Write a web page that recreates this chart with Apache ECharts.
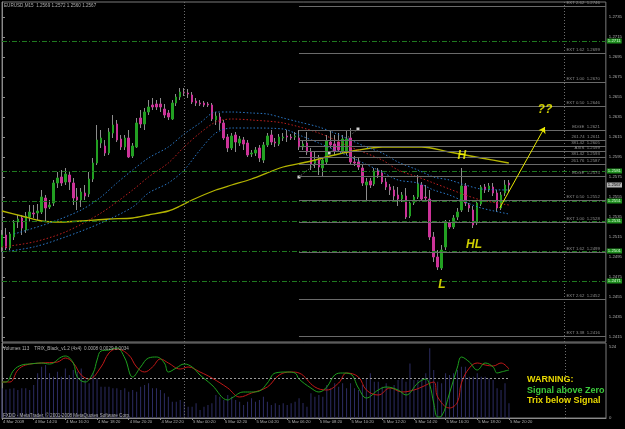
<!DOCTYPE html>
<html><head><meta charset="utf-8">
<script src="https://cdn.jsdelivr.net/npm/echarts@6/dist/echarts.min.js"></script>
<style>html,body{margin:0;padding:0;background:#000;}#c{width:625px;height:429px;}</style>
</head><body><div id="c"></div>
<script>
// ---- DATA (EURUSD M15) ----
const opens = [1.2505,1.2517,1.2504,1.2515,1.2530,1.2534,1.2522,1.2535,1.2539,1.2539,
1.2540,1.2554,1.2545,1.2549,1.2569,1.2575,1.2570,1.2577,1.2569,1.2555,
1.2552,1.2559,1.2558,1.2573,1.2589,1.2609,1.2606,1.2599,1.2619,1.2628,
1.2613,1.2605,1.2614,1.2596,1.2605,1.2634,1.2628,1.2640,1.2647,1.2648,
1.2648,1.2643,1.2639,1.2633,1.2649,1.2655,1.2660,1.2659,1.2657,1.2651,
1.2649,1.2649,1.2648,1.2647,1.2632,1.2635,1.2629,1.2615,1.2604,1.2617,
1.2609,1.2612,1.2609,1.2598,1.2599,1.2604,1.2592,1.2607,1.2617,1.2610,
1.2608,1.2614,1.2616,1.2615,1.2615,1.2614,1.2605,1.2609,1.2600,1.2589,
1.2592,1.2584,1.2590,1.2610,1.2608,1.2610,1.2601,1.2600,1.2614,1.2590,
1.2590,1.2584,1.2567,1.2571,1.2568,1.2581,1.2579,1.2570,1.2565,1.2562,
1.2557,1.2553,1.2556,1.2536,1.2549,1.2555,1.2567,1.2555,1.2553,1.2515,
1.2495,1.2484,1.2505,1.2529,1.2525,1.2535,1.2542,1.2566,1.2547,1.2542,
1.2529,1.2548,1.2565,1.2562,1.2565,1.2559,1.2544,1.2559,1.2569];
const closes = [1.2517,1.2504,1.2518,1.2529,1.2533,1.2524,1.2536,1.2540,1.2538,1.2541,
1.2555,1.2544,1.2547,1.2569,1.2574,1.2569,1.2578,1.2570,1.2554,1.2552,
1.2560,1.2556,1.2573,1.2589,1.2612,1.2614,1.2599,1.2620,1.2627,1.2612,
1.2605,1.2614,1.2595,1.2606,1.2629,1.2628,1.2640,1.2645,1.2645,1.2645,
1.2645,1.2637,1.2635,1.2649,1.2655,1.2660,1.2659,1.2658,1.2650,1.2649,
1.2648,1.2647,1.2647,1.2633,1.2636,1.2629,1.2614,1.2604,1.2616,1.2610,
1.2613,1.2608,1.2597,1.2599,1.2602,1.2594,1.2607,1.2616,1.2610,1.2609,
1.2615,1.2615,1.2615,1.2614,1.2616,1.2605,1.2608,1.2600,1.2588,1.2592,
1.2585,1.2592,1.2611,1.2607,1.2601,1.2602,1.2613,1.2613,1.2590,1.2589,
1.2585,1.2569,1.2570,1.2567,1.2581,1.2577,1.2570,1.2565,1.2562,1.2556,
1.2553,1.2557,1.2535,1.2549,1.2555,1.2568,1.2553,1.2554,1.2515,1.2495,
1.2485,1.2502,1.2529,1.2525,1.2534,1.2540,1.2566,1.2549,1.2544,1.2527,
1.2549,1.2565,1.2562,1.2566,1.2559,1.2544,1.2557,1.2567,1.2567];
const highs = [1.2522,1.2524,1.2520,1.2532,1.2537,1.2537,1.2540,1.2547,1.2547,1.2548,
1.2562,1.2557,1.2552,1.2572,1.2580,1.2582,1.2584,1.2580,1.2574,1.2564,
1.2564,1.2567,1.2580,1.2594,1.2627,1.2622,1.2612,1.2624,1.2637,1.2632,
1.2617,1.2617,1.2622,1.2609,1.2634,1.2642,1.2644,1.2652,1.2654,1.2652,
1.2654,1.2648,1.2642,1.2652,1.2658,1.2664,1.2664,1.2663,1.2660,1.2654,
1.2652,1.2651,1.2650,1.2649,1.2640,1.2639,1.2632,1.2618,1.2619,1.2620,
1.2616,1.2615,1.2612,1.2602,1.2605,1.2607,1.2610,1.2619,1.2622,1.2614,
1.2618,1.2619,1.2622,1.2618,1.2620,1.2622,1.2612,1.2620,1.2604,1.2600,
1.2597,1.2595,1.2617,1.2622,1.2617,1.2619,1.2617,1.2622,1.2624,1.2596,
1.2594,1.2587,1.2574,1.2574,1.2584,1.2584,1.2582,1.2574,1.2568,1.2566,
1.2565,1.2560,1.2564,1.2552,1.2557,1.2577,1.2570,1.2567,1.2562,1.2520,
1.2502,1.2507,1.2532,1.2532,1.2537,1.2544,1.2584,1.2569,1.2549,1.2546,
1.2552,1.2567,1.2568,1.2569,1.2569,1.2562,1.2560,1.2572,1.2572];
const lows = [1.2500,1.2502,1.2502,1.2512,1.2524,1.2517,1.2519,1.2530,1.2534,1.2532,
1.2538,1.2530,1.2543,1.2546,1.2564,1.2566,1.2567,1.2562,1.2547,1.2542,
1.2545,1.2552,1.2555,1.2570,1.2587,1.2604,1.2596,1.2597,1.2614,1.2610,
1.2602,1.2602,1.2594,1.2594,1.2604,1.2624,1.2622,1.2637,1.2642,1.2642,
1.2640,1.2634,1.2632,1.2632,1.2646,1.2652,1.2656,1.2654,1.2648,1.2646,
1.2646,1.2645,1.2645,1.2631,1.2627,1.2622,1.2612,1.2600,1.2602,1.2600,
1.2606,1.2602,1.2595,1.2595,1.2596,1.2590,1.2589,1.2605,1.2607,1.2605,
1.2606,1.2611,1.2610,1.2612,1.2612,1.2602,1.2602,1.2597,1.2582,1.2584,
1.2577,1.2576,1.2587,1.2604,1.2597,1.2600,1.2599,1.2597,1.2587,1.2586,
1.2582,1.2566,1.2552,1.2564,1.2566,1.2574,1.2568,1.2562,1.2557,1.2552,
1.2546,1.2550,1.2533,1.2534,1.2547,1.2553,1.2552,1.2552,1.2512,1.2490,
1.2482,1.2482,1.2502,1.2523,1.2523,1.2532,1.2540,1.2546,1.2540,1.2524,
1.2527,1.2546,1.2559,1.2560,1.2556,1.2540,1.2542,1.2556,1.2560];
const volumes = [219,210,216,219,207,219,219,207,243,330,
379,391,330,305,342,305,366,317,354,342,
366,280,256,330,293,231,231,231,219,219,
207,219,194,207,194,231,243,256,219,219,
207,182,157,120,120,133,120,83,83,108,
59,83,96,108,170,157,133,170,157,133,
120,96,120,145,120,133,157,120,96,108,
96,108,96,108,120,145,110,83,182,157,
170,157,243,219,256,231,256,219,256,219,
207,243,293,330,268,268,231,256,219,243,
280,293,268,403,280,280,293,330,514,354,
268,256,330,317,330,354,379,379,305,305,
330,305,305,293,280,219,207,256,108];
const timeLabels = ['4 Mar 2009','4 Mar 14:20','4 Mar 16:20','4 Mar 18:20','4 Mar 20:20','4 Mar 22:20',
'5 Mar 00:20','5 Mar 02:20','5 Mar 04:20','5 Mar 06:20','5 Mar 08:20','5 Mar 10:20','5 Mar 12:20',
'5 Mar 14:20','5 Mar 16:20','5 Mar 18:20','5 Mar 20:20'];
const barsPerLabel = 8;
const priceTicks = [1.2415,1.2435,1.2455,1.2475,1.2495,1.2515,1.2535,1.2555,1.2575,1.2595,1.2615,1.2635,1.2655,1.2675,1.2695,1.2715,1.2735];
const volumeTicks = [0, 524];
// moving averages: [bar index, price]
const maYellow = [[0,1.2541],[5,1.2536],[10,1.2531],[15,1.2530],[20,1.2531],[27,1.2533],[33,1.2534],[37,1.2537],[42,1.2541],[45,1.2546],[48,1.2552],[54,1.2562],[58,1.2567],[63,1.2573],[71,1.2585],[77,1.2590],[84,1.2597],[90,1.2602],[96,1.2605],[102,1.2605],[106,1.2605],[113,1.2600],[121,1.2594],[128,1.2589]];
const maRed = [[0,1.2505],[8,1.2510],[16,1.2520],[25,1.2539],[33,1.2562],[37,1.2575],[42,1.2589],[46,1.2605],[50,1.2619],[54,1.2630],[58,1.2633],[63,1.2632],[71,1.2629],[80,1.2619],[88,1.2605],[96,1.2592],[100,1.2582],[105,1.2575],[109,1.2569],[113,1.2563],[117,1.2557],[121,1.2552],[128,1.2547]];
const bandUpper = [[3,1.2518],[12,1.2529],[20,1.2542],[25,1.2555],[29,1.2569],[33,1.2582],[37,1.2594],[42,1.2605],[46,1.2618],[50,1.2629],[54,1.2640],[58,1.2640],[63,1.2639],[67,1.2638],[71,1.2634],[75,1.2630],[80,1.2625],[84,1.2619],[88,1.2612],[92,1.2605],[96,1.2599],[100,1.2590],[105,1.2582],[109,1.2575],[113,1.2572],[117,1.2567],[121,1.2563],[128,1.2562]];
const bandLower = [[0,1.2500],[8,1.2505],[16,1.2515],[25,1.2529],[33,1.2545],[37,1.2559],[42,1.2569],[46,1.2582],[50,1.2602],[54,1.2619],[58,1.2624],[63,1.2624],[71,1.2623],[75,1.2617],[80,1.2609],[88,1.2595],[96,1.2580],[100,1.2572],[105,1.2569],[109,1.2562],[113,1.2557],[117,1.2550],[121,1.2544],[128,1.2538]];
// TRIX sub-window: [bar index, value]
const trixGreen = [[0,-0.0004],[1,-0.0004],[3,0.0008],[5,0.0013],[7,0.0014],[10,0.0015],[12,0.0014],[15,0.0021],[16,0.0022],[18,0.0015],[19,0.0001],[21,-0.0004],[23,0.0005],[24,0.0018],[25,0.0027],[27,0.0028],[29,0.0030],[31,0.0020],[33,0.0001],[35,0.0011],[37,0.0020],[39,0.0021],[41,0.0015],[42,0.0006],[44,0.0010],[46,0.0014],[48,0.0011],[50,0.0003],[53,-0.0007],[57,-0.0022],[58,-0.0020],[61,-0.0014],[63,-0.0014],[65,-0.0013],[67,-0.0005],[69,0.0005],[72,0.0006],[74,0.0005],[75,-0.0001],[78,-0.0010],[80,-0.0014],[82,-0.0009],[84,0.0003],[86,0.0005],[88,0.0004],[90,-0.0010],[92,-0.0020],[95,-0.0012],[97,-0.0009],[100,-0.0012],[102,-0.0017],[105,-0.0005],[107,-0.0001],[108,-0.0007],[109,-0.0025],[110,-0.0039],[111,-0.0038],[113,-0.0015],[115,0.0011],[116,0.0021],[118,0.0016],[120,0.0008],[122,0.0015],[124,0.0011],[125,0.0005],[126,0.0006],[128,0.0008]];
const trixRed = [[0,-0.0004],[2,-0.0004],[4,0.0008],[6,0.0013],[10,0.0015],[14,0.0016],[16,0.0020],[18,0.0015],[20,0.0003],[22,-0.0001],[25,0.0011],[27,0.0025],[29,0.0029],[32,0.0023],[34,0.0011],[36,0.0006],[38,0.0011],[40,0.0019],[42,0.0015],[45,0.0009],[47,0.0011],[50,0.0006],[53,0.0000],[57,-0.0010],[60,-0.0019],[63,-0.0015],[67,-0.0009],[70,0.0003],[73,0.0006],[75,0.0005],[79,-0.0009],[82,-0.0012],[85,-0.0005],[87,0.0005],[90,0.0001],[92,-0.0012],[95,-0.0017],[98,-0.0010],[101,-0.0014],[104,-0.0012],[106,-0.0009],[109,-0.0004],[110,-0.0019],[113,-0.0030],[115,-0.0024],[116,-0.0005],[118,0.0010],[120,0.0015],[122,0.0013],[124,0.0012],[126,0.0015],[128,0.0009]];
const trixLevel = 0;
// horizontal levels
const pivotLevels = [1.2711,1.2581,1.2551,1.2531,1.2501,1.2471];
const pivotLabels = ['1.2711','1.2581','1.2551','1.2531','1.2501','1.2471'];
const extLevels = [1.2746,1.2699,1.2670,1.2646,1.2622,1.2612,1.2606,1.2601,1.2595,1.2588,1.2576,1.2552,1.2530,1.2500,1.2453,1.2416];
const extLabels = ['EXT 2.62  1.2746','EXT 1.62  1.2699','EXT 1.00  1.2670','EXT 0.50  1.2646','EDGE  1.2621','261.74  1.2611','381.42  1.2605','AXIS  1.2599','381.42  1.2593','261.76  1.2587','EDGE  1.2575','EXT 0.50  1.2552','EXT 1.00  1.2528','EXT 1.62  1.2499','EXT 2.62  1.2452','EXT 3.38  1.2416'];
const extStart = 75;
const bidPrice = 1.2567;
const anchorPts = [[75,1.2575],[82.6,1.2599],[89.9,1.2623]];
const vLines = [45.9, 142.1];
const annotations = [{text:'H',x:116.1,y:1.2596},{text:'HL',x:119.2,y:1.2507},{text:'L',x:111.1,y:1.2467},{text:'??',x:137.1,y:1.2642}];
const arrowFrom = [125.7,1.2544], arrowTo = [137.1,1.2625];

// ---- CHART ----
const FONT = 'Liberation Sans';
const GREY = '#8a8a8a';
const TXT = '#b0b0b0';
const X_MAX = 152.5;
const idx = opens.map((_, i) => i);
const wickData = idx.map(i => [i, opens[i], closes[i], lows[i], highs[i]]);
const bodyData = idx.map(i => [i, opens[i], closes[i], Math.min(opens[i], closes[i]), Math.max(opens[i], closes[i])]);
const tickIdx = timeLabels.map((_, k) => k * barsPerLabel);

const chart = echarts.init(document.getElementById('c'), null, {renderer: 'canvas', width: 625, height: 429});
const smallText = {color: TXT, fontSize: 4.6, fontFamily: FONT, fontWeight: 'normal'};
const maLine = (data, color, type, width) => ({
  type: 'line', xAxisIndex: 0, yAxisIndex: 0, data, showSymbol: false, smooth: 0.3,
  lineStyle: {color, width, type}, silent: true, z: 4
});
chart.setOption({
  backgroundColor: '#000000',
  animation: false,
  title: [
    {text: 'EURUSD,M15  1.2569 1.2572 1.2560 1.2567', left: 4, top: 3, padding: 0, textStyle: smallText},
    {text: 'Volumes 113    TRIX_Black_v1.2 (4x4)  0.0008 0.0029 0.0034', left: 3, top: 346, padding: 0, textStyle: smallText},
    {text: 'FXDD - MetaTrader, \u00a9 2001-2008 MetaQuotes Software Corp.', left: 3, top: 413, padding: 0, textStyle: smallText},
    {text: 'WARNING:', left: 527, top: 375, padding: 0, textStyle: {color: '#e8d800', fontSize: 9, fontWeight: 'bold', fontFamily: FONT}},
    {text: 'Signal above Zero', left: 527, top: 386, padding: 0, textStyle: {color: '#3ccc3c', fontSize: 9, fontWeight: 'bold', fontFamily: FONT}},
    {text: 'Trix below Signal', left: 527, top: 396, padding: 0, textStyle: {color: '#e8d800', fontSize: 9, fontWeight: 'bold', fontFamily: FONT}}
  ],
  grid: [
    {left: 2, top: 2, width: 604, height: 340, show: true, borderColor: '#7a7a7a', borderWidth: 1, backgroundColor: 'transparent'},
    {left: 2, top: 343, width: 604, height: 75, show: true, borderColor: '#7a7a7a', borderWidth: 1, backgroundColor: 'transparent'}
  ],
  xAxis: [
    {type: 'value', gridIndex: 0, min: 0, max: X_MAX, show: false},
    {type: 'value', gridIndex: 1, min: 0, max: X_MAX,
      axisLine: {show: true, lineStyle: {color: GREY}},
      axisTick: {show: true, customValues: tickIdx, length: 2, lineStyle: {color: GREY}},
      axisLabel: {show: true, customValues: tickIdx, formatter: v => timeLabels[Math.round(v / barsPerLabel)] || '',
        align: 'left', margin: 2, fontSize: 4.2, color: TXT, fontFamily: FONT, padding: [0, 0, 0, 1]},
      splitLine: {show: false}}
  ],
  yAxis: [
    {type: 'value', gridIndex: 0, position: 'right', min: 1.2410, max: 1.2750,
      axisLine: {show: true, lineStyle: {color: GREY}},
      axisTick: {show: true, customValues: priceTicks, length: 3, lineStyle: {color: GREY}},
      axisLabel: {customValues: priceTicks, formatter: v => v.toFixed(4), fontSize: 4.3, color: TXT, fontFamily: FONT, margin: 3},
      splitLine: {show: false}},
    {type: 'value', gridIndex: 1, position: 'right', min: 0, max: 553.5,
      axisLine: {show: true, lineStyle: {color: GREY}},
      axisTick: {show: true, customValues: volumeTicks, length: 3, lineStyle: {color: GREY}},
      axisLabel: {customValues: volumeTicks, fontSize: 4.3, color: TXT, fontFamily: FONT, margin: 3},
      splitLine: {show: false}},
    {type: 'value', gridIndex: 1, min: -0.0040, max: 0.0035, show: false}
  ],
  series: [
    // vertical dotted lines main
    {type: 'line', xAxisIndex: 0, yAxisIndex: 0, data: [], silent: true, clip: false,
      markLine: {silent: true, symbol: 'none', animation: false, precision: 4, label: {show: false},
        lineStyle: {color: '#6e6e6e', width: 1, type: [1, 2]},
        data: vLines.map(v => ({xAxis: v}))}},
    // pivot green levels
    {type: 'line', xAxisIndex: 0, yAxisIndex: 0, data: [], silent: true, clip: false,
      markLine: {silent: true, symbol: 'none', animation: false, precision: 4,
        lineStyle: {color: '#1f7a1f', width: 1, type: [5, 2, 1, 2]},
        label: {show: true, position: 'end', distance: 1, formatter: p => p.name, color: '#d8ffd8',
          backgroundColor: '#1e8c1e', padding: [1, 1, 0, 1], fontSize: 4.3, fontFamily: FONT},
        data: pivotLevels.map((v, k) => ({yAxis: v, name: pivotLabels[k]}))}},
    // expansion levels
    {type: 'line', xAxisIndex: 0, yAxisIndex: 0, data: [], silent: true, clip: false,
      markLine: {silent: true, symbol: 'none', animation: false, precision: 4,
        lineStyle: {color: '#6a6a6a', width: 1, type: 'solid'},
        label: {show: true, position: 'insideEndTop', distance: [6, 1], formatter: p => p.name,
          color: '#8e8e8e', fontSize: 4.3, fontFamily: FONT},
        data: extLevels.map((v, k) => [{coord: [extStart, v], name: extLabels[k]}, {coord: [X_MAX, v], name: extLabels[k]}])}},
    // bid label
    {type: 'line', xAxisIndex: 0, yAxisIndex: 0, data: [], silent: true, clip: false,
      markLine: {silent: true, symbol: 'none', animation: false, precision: 4,
        lineStyle: {color: 'rgba(0,0,0,0)', width: 1},
        label: {show: true, position: 'end', distance: 1, formatter: p => p.name, color: '#000000', opacity: 1,
          backgroundColor: '#b4b4b4', padding: [1, 1, 0, 1], fontSize: 4.3, fontFamily: FONT},
        data: [{yAxis: bidPrice, name: bidPrice.toFixed(4)}]}},
    // anchor dotted line
    {type: 'line', xAxisIndex: 0, yAxisIndex: 0, data: anchorPts, symbol: 'rect', symbolSize: 3, showSymbol: true,
      itemStyle: {color: '#d0d0d0'}, lineStyle: {color: '#8a8a8a', width: 1, type: [1, 2]}, silent: true, z: 3},
    // candles: wicks then bodies
    {type: 'candlestick', xAxisIndex: 0, yAxisIndex: 0, data: wickData, encode: {x: 0, y: [1, 2, 3, 4]}, barWidth: 1,
      itemStyle: {color: '#8c8c8c', color0: '#8c8c8c', borderColor: '#8c8c8c', borderColor0: '#8c8c8c', borderWidth: 1}, silent: true, z: 2},
    {type: 'candlestick', xAxisIndex: 0, yAxisIndex: 0, data: bodyData, encode: {x: 0, y: [1, 2, 3, 4]}, barWidth: 2,
      itemStyle: {color: '#22a022', color0: '#cc3399', borderColor: '#22a022', borderColor0: '#cc3399', borderWidth: 1}, silent: true, z: 3},
    maLine(maYellow, '#b4b400', 'solid', 1.3),
    maLine(maRed, '#c02020', [1.5, 2], 1),
    maLine(bandUpper, '#2a78c8', [1.5, 2], 1),
    maLine(bandLower, '#2a78c8', [1.5, 2], 1),
    // annotations
    {type: 'scatter', xAxisIndex: 0, yAxisIndex: 0, symbolSize: 1, itemStyle: {color: 'rgba(0,0,0,0)'}, silent: true, z: 6,
      data: annotations.map(a => ({value: [a.x, a.y], name: a.text})),
      label: {show: true, position: 'inside', formatter: p => p.name, color: '#ffff00', fontSize: 12,
        fontWeight: 'bold', fontStyle: 'italic', fontFamily: FONT},
      markLine: {silent: true, symbol: ['none', 'arrow'], symbolSize: 6, animation: false, precision: 4, label: {show: false},
        lineStyle: {color: '#e8e800', width: 1, type: 'solid'},
        data: [[{coord: arrowFrom}, {coord: arrowTo}]]}},
    // sub window: volumes
    {type: 'bar', xAxisIndex: 1, yAxisIndex: 1, data: idx.map(i => [i, volumes[i]]), barWidth: 1,
      itemStyle: {color: '#2c2c62'}, silent: true,
      markLine: {silent: true, symbol: 'none', animation: false, precision: 4, label: {show: false},
        lineStyle: {color: '#6e6e6e', width: 1, type: [1, 2]},
        data: vLines.map(v => ({xAxis: v}))}},
    {type: 'line', xAxisIndex: 1, yAxisIndex: 2, data: trixRed, showSymbol: false, smooth: 0.4,
      lineStyle: {color: '#c01818', width: 1}, silent: true,
      markLine: {silent: true, symbol: 'none', animation: false, precision: 4, label: {show: false},
        lineStyle: {color: '#9a9a9a', width: 1, type: [2, 2]},
        data: [[{coord: [0, trixLevel]}, {coord: [128, trixLevel]}]]}},
    {type: 'line', xAxisIndex: 1, yAxisIndex: 2, data: trixGreen, showSymbol: false, smooth: 0.4,
      lineStyle: {color: '#1ea01e', width: 1}, silent: true}
  ]
});
</script></body></html>
